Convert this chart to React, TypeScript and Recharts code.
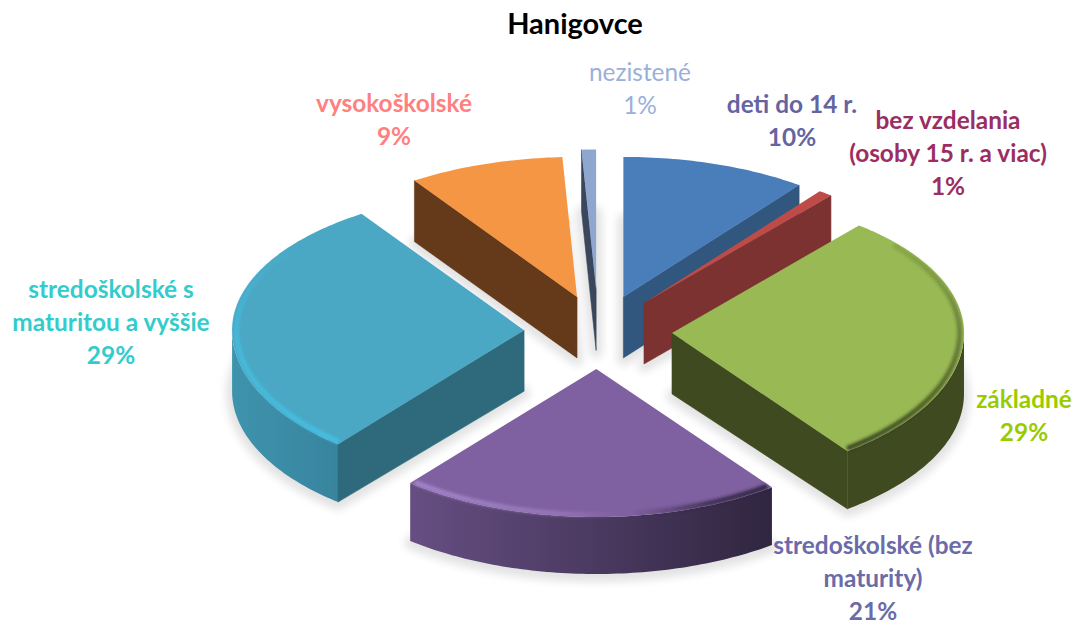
import React from "react";
import { PieChart, Pie } from "recharts";

const categories = [
  "deti do 14 r.",
  "bez vzdelania (osoby 15 r. a viac)",
  "základné",
  "stredoškolské (bez maturity)",
  "stredoškolské s maturitou a vyššie",
  "vysokoškolské",
  "nezistené",
];
const shares = [10.28, 0.78, 28.67, 21.27, 29.6, 8.6, 0.8];
const tableData = categories.map((name, i) => ({ name, value: shares[i] }));

const labelLines = [
  ["deti do 14 r.", "10%"],
  ["bez vzdelania", "(osoby 15 r. a viac)", "1%"],
  ["základné", "29%"],
  ["stredoškolské (bez", "maturity)", "21%"],
  ["stredoškolské s", "maturitou a vyššie", "29%"],
  ["vysokoškolské", "9%"],
  ["nezistené", "1%"],
];
const labelCenterX = [792, 948, 1024, 873, 111, 394, 640];
const labelBaseY = [113, 129, 408, 554, 298, 112, 81];
const labelStep = 33;
const labelColors = ["#6464a2", "#9b2d62", "#99cc00", "#6b6ba8", "#33cccc", "#ff8080", "#9bb0d8"];
const labelWeights = [700, 700, 700, 700, 700, 700, 400];

const topColors = ["#4a7ebb", "#be4b48", "#98b954", "#7f60a0", "#4aa8c4", "#f59644", "#8fa7cf"];
const wallColors = ["#31577f", "#7b3231", "#404a20", "#3f2f55", "#2e6a7c", "#653a1a", "#3a465c"];
const arcWallLeft = ["#31577f", "#7b3231", "#404a20", "#664e82", "#3f93ad", "#653a1a", "#3a465c"];
const arcWallRight = ["#31577f", "#7b3231", "#404a20", "#302640", "#38849f", "#653a1a", "#3a465c"];
const explodeScaleX = [1.08, 1, 1, 1, 1, 0.9, 1];
const explodeScaleY = [1, 1, 1, 1, 1, 1, 1.15];

const CX = 598;
const CY = 332;
const RADIUS = 292;
const BACK_SQUASH = 140 / 292;
const FRONT_SQUASH = 148 / 292;
const EXPLODE_X = 74 / 292;
const EXPLODE_Y = 37 / 292;
const rad = (d: number) => (d * Math.PI) / 180;

function geometry(props: any) {
  const idx = categories.indexOf(props.name ?? props.payload?.name);
  const t1 = 90 - props.startAngle;
  const t2 = 90 - props.endAngle;
  const mid = (t1 + t2) / 2;
  const r = props.outerRadius;
  const ax = props.cx + explodeScaleX[idx] * EXPLODE_X * r * Math.sin(rad(mid));
  const ay = props.cy - explodeScaleY[idx] * EXPLODE_Y * r * Math.cos(rad(mid));
  const at = (t: number, k = 1) => {
    const c = Math.cos(rad(t));
    const ry = (c > 0 ? BACK_SQUASH : FRONT_SQUASH) * r;
    return [ax + k * r * Math.sin(rad(t)), ay - k * ry * c];
  };
  const depth = (t: number) => 61 - 4 * Math.max(0, -Math.cos(rad(t)));
  const sample = (a: number, b: number, k = 1) => {
    const out: number[][] = [];
    const n = Math.max(2, Math.ceil(Math.abs(b - a)));
    for (let i = 0; i <= n; i++) out.push(at(a + ((b - a) * i) / n, k));
    return out;
  };
  return { t1, t2, ax, ay, at, depth, sample, idx };
}
const toPath = (pts: number[][], close = true) =>
  pts.map((p, i) => `${i ? "L" : "M"}${p[0].toFixed(2)} ${p[1].toFixed(2)}`).join(" ") + (close ? " Z" : "");

function ShadowShape(props: any) {
  const g = geometry(props);
  const arc = g.sample(g.t1, g.t2).map((p, i, all) => {
    const t = g.t1 + ((g.t2 - g.t1) * i) / (all.length - 1);
    return [p[0], p[1] + g.depth(t) + 2];
  });
  const pts = [[g.ax, g.ay + g.depth(0) + 2], ...arc];
  return (
    <path
      d={toPath(pts)}
      fill="#000"
      stroke="#000"
      strokeWidth={12}
      strokeLinejoin="round"
      opacity={0.11}
      filter="url(#softShadow)"
    />
  );
}

function SliceShape(props: any) {
  const g = geometry(props);
  const { t1, t2, ax, ay, at, depth, sample, idx } = g;
  const top = [[ax, ay], ...sample(t1, t2)];
  const drop = (p: number[], t: number) => [p[0], p[1] + depth(t)];
  const parts: React.ReactNode[] = [];
  const aFrom = Math.max(t1, 90);
  const aTo = Math.min(t2, 270);
  if (aFrom < aTo) {
    const upper = sample(aFrom, aTo);
    const lower = upper.map((p, i) => drop(p, aFrom + ((aTo - aFrom) * i) / (upper.length - 1))).reverse();
    parts.push(<path key="arc" d={toPath([...upper, ...lower])} fill={`url(#arcWall${idx})`} />);
  }
  const wall = wallColors[idx];
  if (Math.sin(rad(t1)) < 0) {
    const p = at(t1);
    parts.push(
      <path key="s" d={toPath([[ax, ay], p, drop(p, t1), [ax, ay + depth(0)]])} fill={wall} stroke={wall} strokeWidth={0.6} />
    );
  }
  if (Math.sin(rad(t2)) > 0) {
    const p = at(t2);
    parts.push(
      <path key="e" d={toPath([[ax, ay], p, drop(p, t2), [ax, ay + depth(0)]])} fill={wall} stroke={wall} strokeWidth={0.6} />
    );
  }
  const bFrom = Math.max(t1, 50);
  const bTo = Math.min(t2, 310);
  return (
    <g>
      {parts}
      <path d={toPath(top)} fill={topColors[idx]} />
      {bFrom < bTo && (
        <path
          d={toPath(sample(bFrom + 1, bTo - 1, 0.985), false)}
          fill="none"
          stroke={`url(#bevel${idx})`}
          strokeWidth={5}
          strokeLinecap="round"
          filter="url(#softBevel)"
        />
      )}
    </g>
  );
}

function SliceLabel(props: any) {
  const i = categories.indexOf(props.name ?? props.payload?.name);
  if (i < 0) return null;
  return (
    <text
      textAnchor="middle"
      fontFamily="Lato, 'Open Sans', sans-serif"
      fontSize={24.4}
      fontWeight={labelWeights[i]}
      fill={labelColors[i]}
    >
      {labelLines[i].map((line, k) => (
        <tspan key={k} x={labelCenterX[i]} y={labelBaseY[i] + k * labelStep}>
          {line}
        </tspan>
      ))}
    </text>
  );
}

const sharedPie = {
  data: tableData,
  dataKey: "value",
  nameKey: "name",
  cx: CX,
  cy: CY,
  innerRadius: 0,
  outerRadius: RADIUS,
  startAngle: 90,
  endAngle: -270,
  stroke: "none",
  isAnimationActive: false,
  labelLine: false,
  legendType: "none" as const,
};

export default function App() {
  return (
    <div style={{ position: "absolute", left: 0, top: 0, width: 1074, height: 622, background: "#fff" }}>
      <PieChart width={1074} height={622} margin={{ top: 0, right: 0, bottom: 0, left: 0 }}>
        <defs>
          <filter id="softShadow" filterUnits="userSpaceOnUse" x={0} y={0} width={1074} height={640}>
            <feGaussianBlur stdDeviation={4} />
          </filter>
          <filter id="softBevel" filterUnits="userSpaceOnUse" x={0} y={0} width={1074} height={640}>
            <feGaussianBlur stdDeviation={1.6} />
          </filter>
          {categories.map((c, i) => (
            <linearGradient key={c} id={`arcWall${i}`} x1="0" x2="1" y1="0" y2="0">
              <stop offset="0%" stopColor={arcWallLeft[i]} />
              <stop offset="100%" stopColor={arcWallRight[i]} />
            </linearGradient>
          ))}
          <linearGradient id="bevel2" gradientUnits="objectBoundingBox" x1="0" x2="0" y1="0" y2="1">
            <stop offset="0%" stopColor="#2e3616" stopOpacity={0.15} />
            <stop offset="60%" stopColor="#2e3616" stopOpacity={0.55} />
            <stop offset="100%" stopColor="#2e3616" stopOpacity={0.85} />
          </linearGradient>
          <linearGradient id="bevel3" gradientUnits="objectBoundingBox" x1="0" x2="1" y1="0" y2="0">
            <stop offset="0%" stopColor="#a586cc" stopOpacity={0.95} />
            <stop offset="40%" stopColor="#a586cc" stopOpacity={0.55} />
            <stop offset="58%" stopColor="#a586cc" stopOpacity={0} />
            <stop offset="62%" stopColor="#2e2440" stopOpacity={0} />
            <stop offset="85%" stopColor="#2e2440" stopOpacity={0.8} />
            <stop offset="100%" stopColor="#2e2440" stopOpacity={0.95} />
          </linearGradient>
          <linearGradient id="bevel4" gradientUnits="objectBoundingBox" x1="0" x2="0" y1="0" y2="1">
            <stop offset="0%" stopColor="#44c0e4" stopOpacity={0} />
            <stop offset="50%" stopColor="#44c0e4" stopOpacity={0.7} />
            <stop offset="100%" stopColor="#44c0e4" stopOpacity={0.9} />
          </linearGradient>
        </defs>
        <text
          x={575}
          y={34}
          textAnchor="middle"
          fontFamily="Lato, 'Open Sans', sans-serif"
          fontSize={29}
          fontWeight={700}
          fill="#000"
        >
          Hanigovce
        </text>
        <Pie
          {...sharedPie}
          shape={ShadowShape}
          inactiveShape={ShadowShape}
          activeShape={ShadowShape}
          label={false}
        />
        <Pie
          {...sharedPie}
          shape={SliceShape}
          inactiveShape={SliceShape}
          activeShape={SliceShape}
          label={SliceLabel}
        />
      </PieChart>
    </div>
  );
}
